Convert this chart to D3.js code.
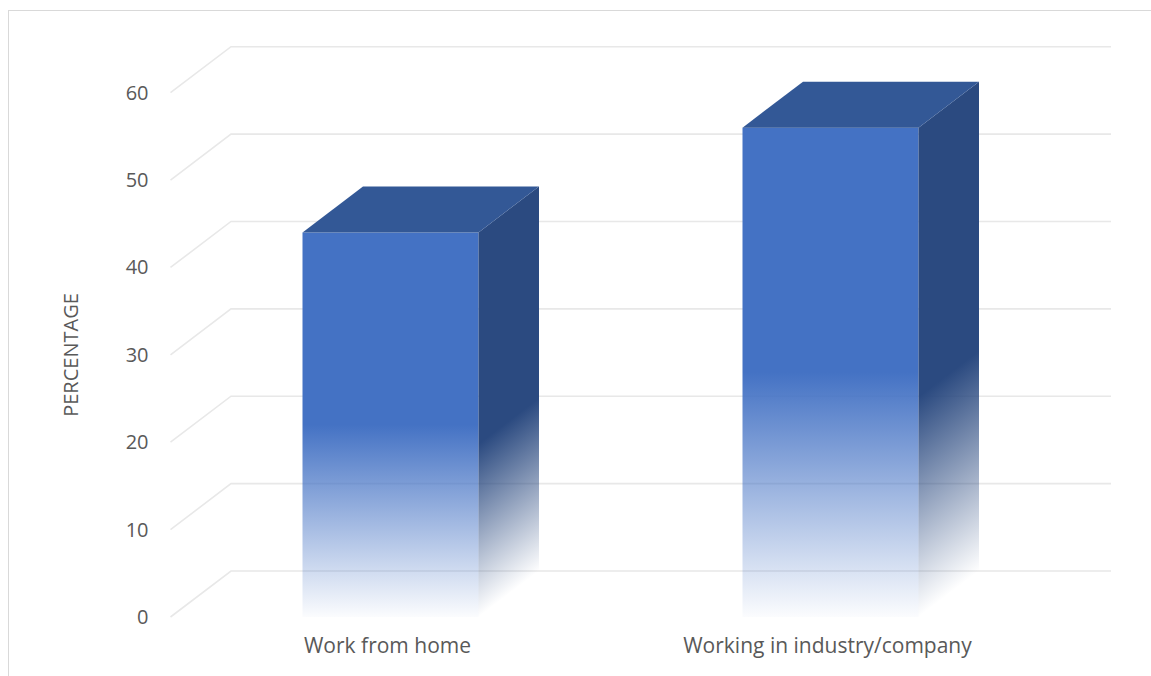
<!DOCTYPE html>
<html>
<head>
<meta charset="utf-8">
<script src="https://cdn.jsdelivr.net/npm/d3@7"></script>
<style>
  body { margin: 0; background: #fff; }
  svg { display: block; font-family: "Open Sans", sans-serif; }
</style>
</head>
<body>
<div id="chart"></div>
<script>
// chart data
const categories = ['Work from home', 'Working in industry/company'];
const values = [44, 56];
const yTicks = [0, 10, 20, 30, 40, 50, 60];
const yTitle = 'PERCENTAGE';

const W = 1151, H = 676;
// 3D depth offset of the back wall
const dx = 60.5, dy = -46;
const skew = Math.atan(dy / dx) * 180 / Math.PI;

const svg = d3.select('#chart').append('svg').attr('width', W).attr('height', H);
const defs = svg.append('defs');

const front = defs.append('linearGradient').attr('id', 'gFront')
  .attr('x1', 0).attr('y1', 0).attr('x2', 0).attr('y2', 1);
front.append('stop').attr('offset', 0).attr('stop-color', '#4472C4').attr('stop-opacity', 1);
front.append('stop').attr('offset', 0.5).attr('stop-color', '#4472C4').attr('stop-opacity', 1);
front.append('stop').attr('offset', 1).attr('stop-color', '#4472C4').attr('stop-opacity', 0.02);

const side = defs.append('linearGradient').attr('id', 'gSide')
  .attr('x1', 0).attr('y1', 0).attr('x2', 0).attr('y2', 1);
side.append('stop').attr('offset', 0).attr('stop-color', '#2B4A80').attr('stop-opacity', 1);
side.append('stop').attr('offset', 0.55).attr('stop-color', '#2B4A80').attr('stop-opacity', 1);
side.append('stop').attr('offset', 1).attr('stop-color', '#2B4A80').attr('stop-opacity', 0);

// chart frame (runs off the right and bottom edges)
svg.append('rect').attr('x', 8.5).attr('y', 10.5).attr('width', W + 10).attr('height', H + 10)
  .attr('fill', 'none').attr('stroke', '#d9d9d9').attr('stroke-width', 1);

const y = d3.scaleLinear().domain([0, 60]).range([617, 92.7]);
const x = d3.scaleBand().domain(categories).range([170.5, 1050.5])
  .paddingInner(0.6).paddingOuter(0.3);
const x0 = x.range()[0], x1 = x.range()[1];

// gridlines: diagonal on side wall + horizontal on back wall
const grid = svg.append('g').attr('fill', 'none').attr('stroke', '#e8e8e8').attr('stroke-width', 1.6);
grid.selectAll('path').data(yTicks).enter().append('path')
  .attr('d', t => `M${x0},${y(t)}L${x0 + dx},${y(t) + dy}L${x1 + dx},${y(t) + dy}`);

// bars
const bar = svg.selectAll('g.bar').data(categories.map((c, i) => ({ c, v: values[i] })))
  .enter().append('g').attr('class', 'bar');

bar.append('rect')
  .attr('x', d => x(d.c)).attr('y', d => y(d.v))
  .attr('width', x.bandwidth()).attr('height', d => y(0) - y(d.v))
  .attr('fill', 'url(#gFront)');

bar.append('g')
  .attr('transform', d => `translate(${x(d.c) + x.bandwidth()},${y(d.v)}) skewY(${skew})`)
  .append('rect')
  .attr('width', dx).attr('height', d => y(0) - y(d.v))
  .attr('fill', 'url(#gSide)');

bar.append('path')
  .attr('d', d => {
    const l = x(d.c), r = l + x.bandwidth(), t = y(d.v);
    return `M${l},${t}L${r},${t}L${r + dx},${t + dy}L${l + dx},${t + dy}Z`;
  })
  .attr('fill', '#335896');

// y axis labels
const yAxis = svg.append('g').attr('transform', `translate(${x0},0)`)
  .call(d3.axisLeft(y).tickValues(yTicks).tickSize(0).tickPadding(22));
yAxis.select('.domain').remove();
yAxis.selectAll('text').attr('font-family', '"Open Sans", sans-serif')
  .attr('font-size', 20).attr('fill', '#595959');

svg.append('text')
  .attr('transform', 'translate(78,355) rotate(-90)')
  .attr('text-anchor', 'middle')
  .attr('font-size', 20).attr('fill', '#595959')
  .text(yTitle);

// category labels
svg.selectAll('text.cat').data(categories).enter().append('text')
  .attr('class', 'cat')
  .attr('x', d => x(d) + x.bandwidth() / 2 - 3)
  .attr('y', 653)
  .attr('text-anchor', 'middle')
  .attr('font-size', 21).attr('fill', '#595959')
  .text(d => d);
</script>
</body>
</html>
